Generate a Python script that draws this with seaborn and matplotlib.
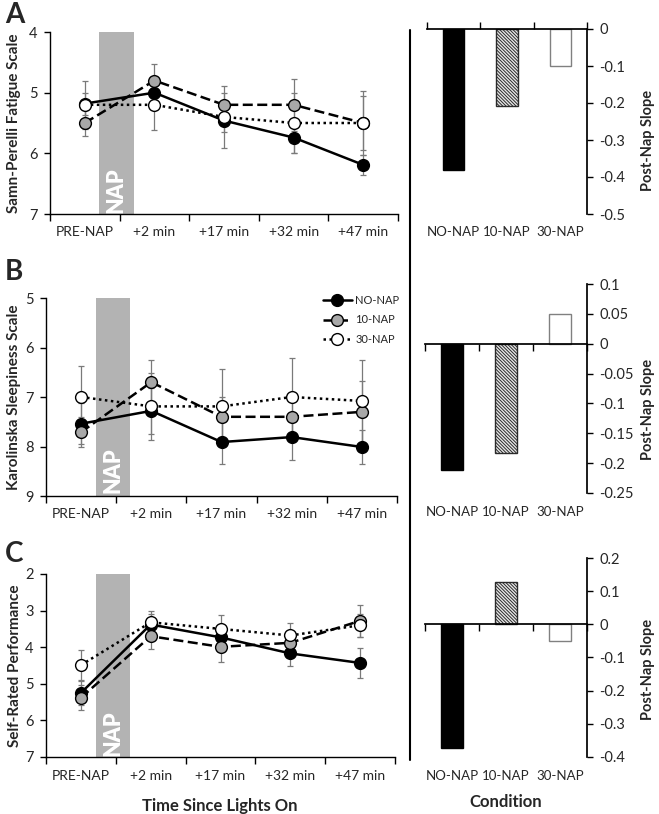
import numpy as np
import pandas as pd
import matplotlib
matplotlib.use("Agg")
import matplotlib.pyplot as plt
import seaborn as sns
from matplotlib.lines import Line2D
from matplotlib.ticker import FuncFormatter

# ---------------- data ----------------
times = ["PRE-NAP", "+2 min", "+17 min", "+32 min", "+47 min"]
conditions = ["NO-NAP", "10-NAP", "30-NAP"]

# Panel A: Samn-Perelli Fatigue Scale
sp_no = [5.18, 5.00, 5.46, 5.74, 6.19]
sp_no_err = [0.18, 0.25, 0.45, 0.26, 0.16]
sp_10 = [5.50, 4.80, 5.20, 5.20, 5.50]
sp_10_err = [0.22, 0.28, 0.31, 0.43, 0.45]
sp_30 = [5.20, 5.20, 5.40, 5.50, 5.50]
sp_30_err = [0.40, 0.41, 0.25, 0.50, 0.52]

# Panel B: Karolinska Sleepiness Scale
kss_no = [7.54, 7.28, 7.91, 7.81, 8.01]
kss_no_err = [0.41, 0.46, 0.44, 0.47, 0.34]
kss_10 = [7.71, 6.70, 7.40, 7.40, 7.30]
kss_10_err = [0.30, 0.44, 0.41, 0.35, 0.62]
kss_30 = [7.00, 7.19, 7.19, 7.00, 7.08]
kss_30_err = [0.62, 0.67, 0.76, 0.79, 0.83]

# Panel C: Self-Rated Performance
srp_no = [5.25, 3.38, 3.73, 4.17, 4.43]
srp_no_err = [0.34, 0.30, 0.35, 0.35, 0.40]
srp_10 = [5.38, 3.70, 3.99, 3.88, 3.28]
srp_10_err = [0.34, 0.34, 0.42, 0.30, 0.43]
srp_30 = [4.49, 3.32, 3.50, 3.68, 3.40]
srp_30_err = [0.41, 0.30, 0.39, 0.34, 0.32]

# Post-nap slopes
slope_sp = [-0.381, -0.208, -0.100]
slope_kss = [-0.212, -0.183, 0.050]
slope_srp = [-0.372, 0.128, -0.050]

# ---------------- style ----------------
sns.set_theme(style="ticks")
plt.rcParams["font.family"] = ["Lato", "DejaVu Sans"]
plt.rcParams["axes.unicode_minus"] = False
plt.rcParams["hatch.linewidth"] = 0.7

W, H = 659, 814
fig = plt.figure(figsize=(W / 100, H / 100), dpi=100)


def fbox(x0, y0, x1, y1):
    return [x0 / W, 1 - y1 / H, (x1 - x0) / W, (y1 - y0) / H]


line_style = {
    "NO-NAP": dict(linestyle="-", markerfacecolor="black", linewidth=1.8),
    "10-NAP": dict(linestyle=(0, (4, 1.8)), markerfacecolor="#a8a8a8", linewidth=1.8),
    "30-NAP": dict(linestyle=(0, (1, 1.4)), markerfacecolor="white", linewidth=1.8),
}
bar_face = {"NO-NAP": "black", "10-NAP": "#e6e6e6", "30-NAP": "white"}
bar_edge = {"NO-NAP": "black", "10-NAP": "#2a2a2a", "30-NAP": "#808080"}


def line_panel(ax, series, errs, ylim, yticks, ylabel, label_x, legend=False):
    x = np.arange(len(times))
    ax.axvspan(0.21, 0.70, color="#b3b3b3", lw=0, zorder=0)
    ax.text(0.455, ylim[1] - 0.13 * (ylim[1] - ylim[0]), "NAP", rotation=90,
            color="white", fontsize=15.5, fontweight="heavy",
            ha="center", va="center", zorder=0.5)
    for cond, vals, err in zip(conditions, series, errs):
        ax.errorbar(x, vals, yerr=err, fmt="none", ecolor="#7a7a7a",
                    elinewidth=0.9, capsize=2.5, capthick=0.9, zorder=1.5)
    for cond, vals in zip(conditions, series):
        df = pd.DataFrame({"t": x, "v": vals})
        sns.lineplot(data=df, x="t", y="v", ax=ax, color="black", marker="o",
                     markersize=8.5, markeredgecolor="black", markeredgewidth=1.0,
                     errorbar=None, label=cond, legend=False, **line_style[cond])
    ax.set_xlim(-0.5, len(times) - 0.5)
    ax.set_ylim(ylim[1], ylim[0])
    ax.set_yticks(yticks)
    ax.set_xticks(np.arange(-0.5, len(times), 1.0))
    ax.set_xticklabels([])
    ax.set_xticks(x, labels=times, minor=True)
    ax.tick_params(axis="x", which="major", direction="out", length=5,
                   width=1, color="black", bottom=True)
    ax.tick_params(axis="x", which="minor", length=0, pad=9, labelsize=10)
    ax.tick_params(axis="y", direction="out", length=4, width=1, left=True,
                   labelsize=10.5, pad=5, color="black")
    for s in ["top", "right"]:
        ax.spines[s].set_visible(False)
    for s in ["left", "bottom"]:
        ax.spines[s].set_color("black")
        ax.spines[s].set_linewidth(1.0)
    ax.set_xlabel("")
    ax.set_ylabel(ylabel, fontsize=11, fontweight="bold")
    ax.yaxis.set_label_coords(label_x, 0.5)
    if legend:
        handles, labels = ax.get_legend_handles_labels()
        ax.legend(handles[:3], labels[:3], loc="upper right",
                  bbox_to_anchor=(1.035, 1.065), frameon=False, fontsize=8,
                  handlelength=2.6, handletextpad=0.3, labelspacing=0.75)


def bar_panel(ax, vals, ylim, yticks, tick_dir, label_y):
    sns.barplot(x=conditions, y=vals, hue=conditions,
                palette=[bar_face[c] for c in conditions], width=0.4,
                ax=ax, legend=False, saturation=1, linewidth=1.0)
    for patch, cond in zip(ax.patches, conditions):
        patch.set_edgecolor(bar_edge[cond])
        if cond == "10-NAP":
            patch.set_hatch("\\\\\\\\\\\\\\\\\\\\")
    ax.set_xlim(-0.5, len(conditions) - 0.5)
    ax.set_ylim(*ylim)
    ax.set_yticks(yticks)
    ax.yaxis.set_major_formatter(FuncFormatter(lambda v, _: f"{round(v, 3) + 0:g}"))
    ax.yaxis.tick_right()
    ax.tick_params(axis="y", direction="out", length=4, width=1, right=True,
                   left=False, labelsize=10.5, pad=5, color="black")
    ax.spines["bottom"].set_position(("data", 0))
    ax.spines["bottom"].set_color("black")
    ax.spines["right"].set_color("black")
    for s in ["top", "left"]:
        ax.spines[s].set_visible(False)
    ax.set_xticks(np.arange(-0.5, len(conditions), 1.0))
    ax.set_xticklabels([])
    ax.tick_params(axis="x", direction=tick_dir, length=5, width=1,
                   bottom=True, color="black")
    sec = ax.secondary_xaxis(0.0)
    sec.set_xticks(range(len(conditions)), labels=conditions)
    sec.tick_params(length=0, pad=9, labelsize=9.5)
    for s in sec.spines.values():
        s.set_visible(False)
    ax.set_xlabel("")
    ax.set_ylabel("Post-Nap Slope", fontsize=10.5, fontweight="bold", rotation=90)
    ax.yaxis.set_label_position("right")
    ax.yaxis.set_label_coords(1.335, label_y)


# ---- left panels ----
axA = fig.add_axes(fbox(50, 32, 398, 214))
line_panel(axA, [sp_no, sp_10, sp_30], [sp_no_err, sp_10_err, sp_30_err],
           (4, 7), [4, 5, 6, 7], "Samn-Perelli Fatigue Scale", -0.082)
axB = fig.add_axes(fbox(46, 298, 397, 496))
line_panel(axB, [kss_no, kss_10, kss_30], [kss_no_err, kss_10_err, kss_30_err],
           (5, 9), [5, 6, 7, 8, 9], "Karolinska Sleepiness Scale", -0.070, legend=True)
axC = fig.add_axes(fbox(46, 574, 395, 757))
line_panel(axC, [srp_no, srp_10, srp_30], [srp_no_err, srp_10_err, srp_30_err],
           (2, 7), [2, 3, 4, 5, 6, 7], "Self-Rated Performance", -0.070)

# ---- right panels ----
axA2 = fig.add_axes(fbox(427, 29, 587, 214))
bar_panel(axA2, slope_sp, (-0.5, 0.0), [0, -0.1, -0.2, -0.3, -0.4, -0.5], "in", 0.40)
axB2 = fig.add_axes(fbox(425, 284, 587, 493))
bar_panel(axB2, slope_kss, (-0.25, 0.1),
          [0.1, 0.05, 0, -0.05, -0.1, -0.15, -0.2, -0.25], "out", 0.40)
axC2 = fig.add_axes(fbox(425, 558, 587, 757))
bar_panel(axC2, slope_srp, (-0.4, 0.2),
          [0.2, 0.1, 0, -0.1, -0.2, -0.3, -0.4], "out", 0.44)

# ---- annotations ----
fig.text(220 / W, 1 - 806 / H, "Time Since Lights On", ha="center", va="center",
         fontsize=12, fontweight="bold")
fig.text(506 / W, 1 - 802 / H, "Condition", ha="center", va="center",
         fontsize=12, fontweight="bold")
for letter, yc in [("A", 15), ("B", 272), ("C", 554)]:
    fig.text(5 / W, 1 - yc / H, letter, ha="left", va="center",
             fontsize=20, fontweight="bold")
fig.add_artist(Line2D([410 / W, 410 / W], [1 - 30 / H, 1 - 760 / H],
                      color="black", linewidth=1.5))

fig.savefig("out.png", dpi=100)
